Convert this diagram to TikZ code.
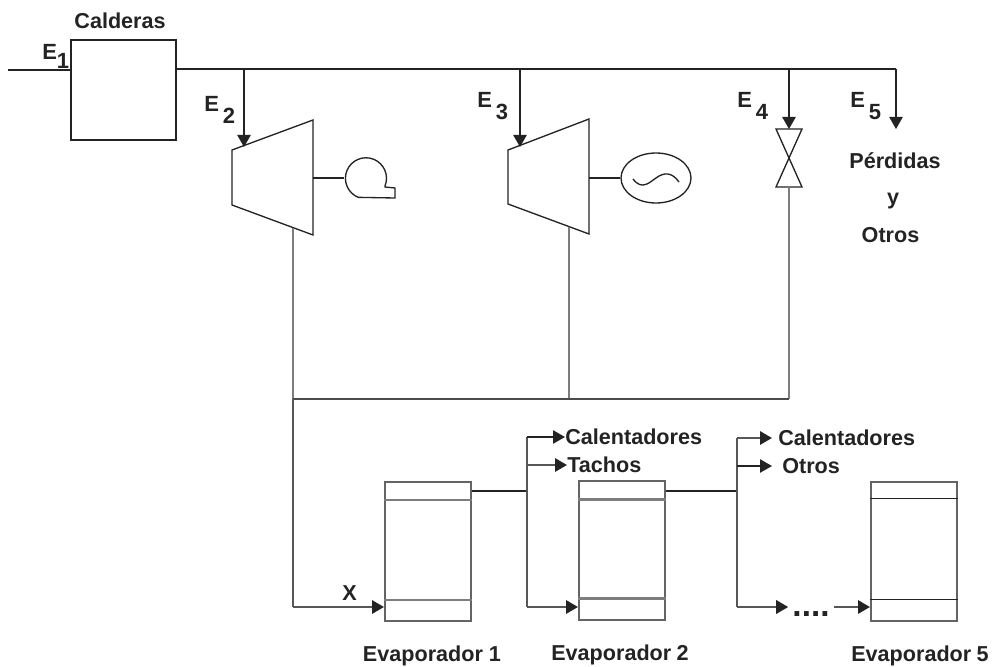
\documentclass[tikz,border=0pt]{standalone}
\usepackage{xcolor}
\usepackage{fontspec}
\setmainfont{Liberation Sans}
\usetikzlibrary{arrows.meta, positioning, shapes.geometric, calc}
\definecolor{pipegray}{RGB}{125,125,125}
\definecolor{inkdark}{RGB}{35,35,35}
\newcommand{\Elab}[1]{E\kern3pt\raisebox{-9pt}{#1}}

\begin{document}
\begin{tikzpicture}[
  x=0.75pt, y=-0.75pt,
  box/.style={draw=inkdark, line width=1.2pt, minimum width=78.75pt, minimum height=75pt, inner sep=0pt},
  evap/.style={draw=pipegray!80!black, line width=1.5pt, minimum width=64.5pt, minimum height=104.25pt, inner sep=0pt},
  lab/.style={font=\bfseries\fontsize{16.2}{18}\selectfont, text=inkdark, inner sep=0pt},
  elab/.style={font=\bfseries\fontsize{16.5}{18}\selectfont, text=inkdark, inner sep=0pt, anchor=base west},
  steam/.style={draw=inkdark, line width=1.3pt},
  back/.style={draw=pipegray, line width=1.9pt},
  arr/.style={-{Triangle[length=9pt,width=10pt]}, inkdark, line width=1.2pt},
  backarr/.style={-{Triangle[length=9pt,width=10pt,color=inkdark]}, pipegray!70!black, line width=1.6pt},
  machine/.style={draw=inkdark, line width=1pt}
]
  \useasboundingbox (0,0) rectangle (993,667);

  % boiler and header
  \node[box] (boiler) at (123.5,90) {};
  \node[lab, above=8pt of boiler, xshift=-2.6pt] (calderas) {Calderas};
  \coordinate (inlet) at (8,70);
  \coordinate (endfive) at (896,69);
  \coordinate (taptwo) at (244,69);
  \coordinate (tapthree) at (520,69);
  \coordinate (tapfour) at (789,69);
  \draw[steam] (inlet) -- (boiler.west |- inlet);
  \draw[steam] (boiler.east |- endfive) -- (endfive);

  % turbines
  \coordinate (turbone) at (244,147);
  \coordinate (turbtwo) at (520,147);
  \draw[machine] (232,150) -- (313,120) -- (313,235) -- (232,205) -- cycle;
  \draw[machine] (508,150) -- (589,119) -- (589,234) -- (508,204) -- cycle;
  \draw[arr] (taptwo) -- (turbone);
  \draw[arr] (tapthree) -- (turbtwo);

  % fan and generator
  \node[circle, minimum size=30.75pt, inner sep=0pt] (fan) at (365,178) {};
  \draw[machine] (385,186) arc[start angle=-22, end angle=248, radius=15.4pt] -- (395,198) -- (395,188) -- (385,187) -- cycle;
  \draw[machine] (313,178) -- (fan.west);
  \node[ellipse, machine, minimum width=52.5pt, minimum height=37.5pt, inner sep=0pt] (gen) at (656,178) {};
  \draw[machine] (589,178) -- (gen.west);
  \draw[machine] (633,179) .. controls (642,191) and (650,182) .. (656,178) .. controls (664,172) and (672,172) .. (679,182);

  % valve
  \coordinate (valvetop) at (789,129);
  \coordinate (valvebot) at (789,187);
  \draw[machine] (776,129) -- (802,129) -- (776,187) -- (802,187) -- cycle;
  \draw[arr] (tapfour) -- (valvetop);
  \draw[arr] (endfive) -- (896,129);

  % labels of the header
  \node[elab] (eone) at (42,60) {E\raisebox{-6.5pt}{1}};
  \node[elab] (etwo) at (204,112) {\Elab{2}};
  \node[elab] (ethree) at (477,108) {\Elab{3}};
  \node[elab] (efour) at (737,108) {\Elab{4}};
  \node[elab] (efive) at (850,108) {\Elab{5}};
  \node[lab] (perd) at (895,161) {Pérdidas};
  \node[lab] (yy) at (893,201) {y};
  \node[lab] (otros) at (890.5,235) {Otros};

  % return line
  \coordinate (backone) at (293,228);
  \coordinate (backtwo) at (569,227);
  \coordinate (jone) at (293,399);
  \coordinate (jtwo) at (569,399);
  \coordinate (jthree) at (789,399);
  \draw[back] (backone) -- (jone);
  \draw[back] (backtwo) -- (jtwo);
  \draw[back] (valvebot) -- (jthree);
  \draw[steam, pipegray!60!black] (jone) -- (jthree);

  % evaporators
  \node[evap] (evone) at (428,551.5) {};
  \node[evap] (evtwo) at (622,550) {};
  \node[evap] (evfive) at (914,551) {};
  \draw[back] ($(evone.north west)+(0,19)$) -- ($(evone.north east)+(0,19)$);
  \draw[back] ($(evone.south west)+(0,-22)$) -- ($(evone.south east)+(0,-22)$);
  \draw[back] ($(evtwo.north west)+(0,20)$) -- ($(evtwo.north east)+(0,20)$);
  \draw[back] ($(evtwo.south west)+(0,-22)$) -- ($(evtwo.south east)+(0,-22)$);
  \draw[steam] ($(evfive.north west)+(0,18)$) -- ($(evfive.north east)+(0,18)$);
  \draw[steam] ($(evfive.south west)+(0,-22)$) -- ($(evfive.south east)+(0,-22)$);
  \node[lab, below=17.5pt of evone, xshift=3pt] (namone) {Evaporador 1};
  \node[lab, below=18pt of evtwo, xshift=-1.5pt] (namtwo) {Evaporador\kern4pt 2};
  \node[lab, below=18pt of evfive, xshift=4.5pt] (namfive) {Evaporador\kern4pt 5};

  % feed of evaporator 1
  \coordinate (feedone) at (293,607);
  \draw[back, pipegray!70!black] (jone) -- (feedone);
  \draw[backarr] (feedone) -- (evone.west |- feedone);
  \node[lab] (xlab) at (349.5,593) {X};

  % bleed of evaporator 1
  \coordinate (bleedone) at (527,491);
  \coordinate (topone) at (527,437);
  \coordinate (midone) at (527,465);
  \coordinate (lowone) at (527,607);
  \node[lab, anchor=west] (calone) at (565,437) {Calentadores};
  \node[lab, anchor=west] (tachos) at (567,465) {Tachos};
  \draw[steam] (evone.east |- bleedone) -- (bleedone);
  \draw[back, pipegray!70!black] (topone) -- (lowone);
  \draw[arr] (topone) -- (calone.west);
  \draw[backarr] (midone) -- (tachos.west);
  \draw[backarr] (lowone) -- (evtwo.west |- lowone);

  % bleed of evaporator 2
  \coordinate (bleedtwo) at (737,491);
  \coordinate (toptwo) at (737,438);
  \coordinate (midtwo) at (737,466);
  \coordinate (lowtwo) at (737,607);
  \node[lab, anchor=west] (caltwo) at (778,438) {Calentadores};
  \node[lab, anchor=west] (otrostwo) at (782,466) {Otros};
  \node[lab, font=\bfseries\fontsize{25}{25}\selectfont, inner sep=3pt, anchor=base] (dots) at (811,616) {....};
  \draw[steam] (evtwo.east |- bleedtwo) -- (bleedtwo);
  \draw[back, pipegray!70!black] (toptwo) -- (lowtwo);
  \draw[backarr, shorten >=4.5pt] (toptwo) -- (caltwo.west);
  \draw[arr, shorten >=7.5pt] (midtwo) -- (otrostwo.west);
  \draw[backarr] (lowtwo) -- (dots.west |- lowtwo);
  \draw[backarr] (dots.east |- lowtwo) -- (evfive.west |- lowtwo);
\end{tikzpicture}
\end{document}
